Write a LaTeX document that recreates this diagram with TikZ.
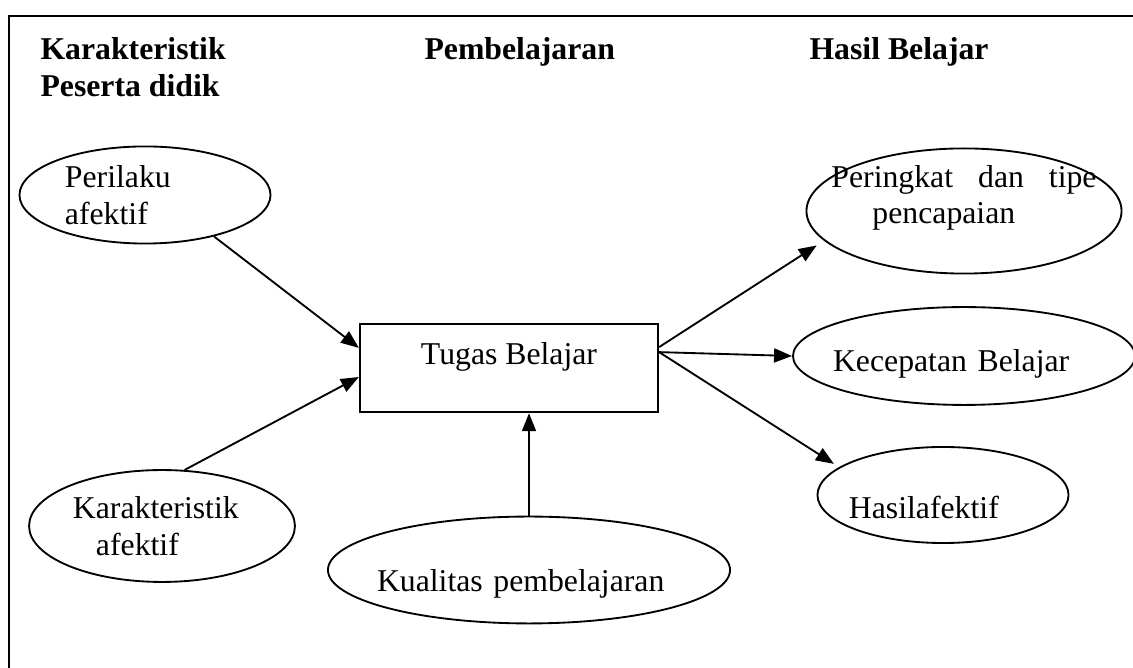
\documentclass[tikz,border=0pt]{standalone}
\usepackage{fontspec}
\setmainfont{Liberation Serif}
\usetikzlibrary{arrows.meta,shapes.geometric}

\begin{document}
\begin{tikzpicture}[x=0.378pt, y=-0.378pt]
\tikzstyle{header}=[font=\fontsize{12}{14}\selectfont\bfseries, inner sep=0pt, anchor=base west, align=left]
\tikzstyle{ellipsenode}=[draw, line width=0.7pt, ellipse, inner sep=-10pt, font=\fontsize{12}{13.8}\selectfont, align=left]
\tikzstyle{process}=[draw, line width=0.9pt, rectangle, inner sep=0pt, font=\fontsize{12}{13.8}\selectfont, align=center, minimum width=112.6pt, minimum height=33.3pt, text height=8.2pt, text depth=11.2pt]
\tikzstyle{flowArrow}=[line width=0.7pt, -{Triangle[length=6.8pt, width=5.3pt]}]
\tikzstyle{frameline}=[line width=1pt]

\useasboundingbox (0,0) rectangle (1133,668);
\clip (0,0) rectangle (1133,668);
\draw[frameline] (9,690) -- (9,16) -- (1150,16);

\node[header] (hkarakter) at (40,97) {Karakteristik\\Peserta didik};
\node[header] (hpembelajaran) at (424,60) {Pembelajaran};
\node[header] (hhasil) at (809,60) {Hasil Belajar};

\node[ellipsenode, minimum width=94.9pt, minimum height=36.7pt, text width=60.5pt] (perilaku) at (145,195) {Perilaku\\afektif};
\node[ellipsenode, minimum width=100.5pt, minimum height=42.3pt, text width=67.3pt] (karakter) at (162,526) {Karakteristik\\\hspace*{8.7pt}afektif};
\node[ellipsenode, minimum width=152pt, minimum height=40.4pt, text width=114.9pt, text height=16.6pt, text depth=0pt] (kualitas) at (529,570) {Kualitas pembelajaran};
\node[process] (tugas) at (509,368) {Tugas Belajar};
\node[ellipsenode, minimum width=119.1pt, minimum height=47.3pt, text width=100.2pt, text height=8.2pt, text depth=26.3pt] (peringkat) at (964,211) {\makebox[100.2pt][l]{Peringkat\hfill dan\hfill tipe}\\\hspace*{15.5pt}pencapaian};
\node[ellipsenode, minimum width=129.3pt, minimum height=37pt, text width=99pt, text height=12.1pt, text depth=0pt] (kecepatan) at (964,356) {Kecepatan Belajar};
\node[ellipsenode, minimum width=94.9pt, minimum height=36.3pt, text width=71.1pt, text height=17.4pt, text depth=0pt] (hasil) at (943,495) {Hasilafektif};

\draw[flowArrow] (perilaku.-31) -- ([yshift=7.6pt]tugas.west);
\draw[flowArrow] (karakter.68) -- ([yshift=-3.4pt]tugas.west);
\draw[flowArrow] (kualitas.north) -- (kualitas.north |- tugas.south);
\draw[flowArrow, shorten >=3.3pt] ([yshift=7.9pt]tugas.east) -- (peringkat.192);
\draw[flowArrow] ([yshift=6pt]tugas.east) -- (kecepatan.west);
\draw[flowArrow, shorten >=2.3pt] ([yshift=6pt]tugas.east) -- (hasil.165);

\end{tikzpicture}
\end{document}
